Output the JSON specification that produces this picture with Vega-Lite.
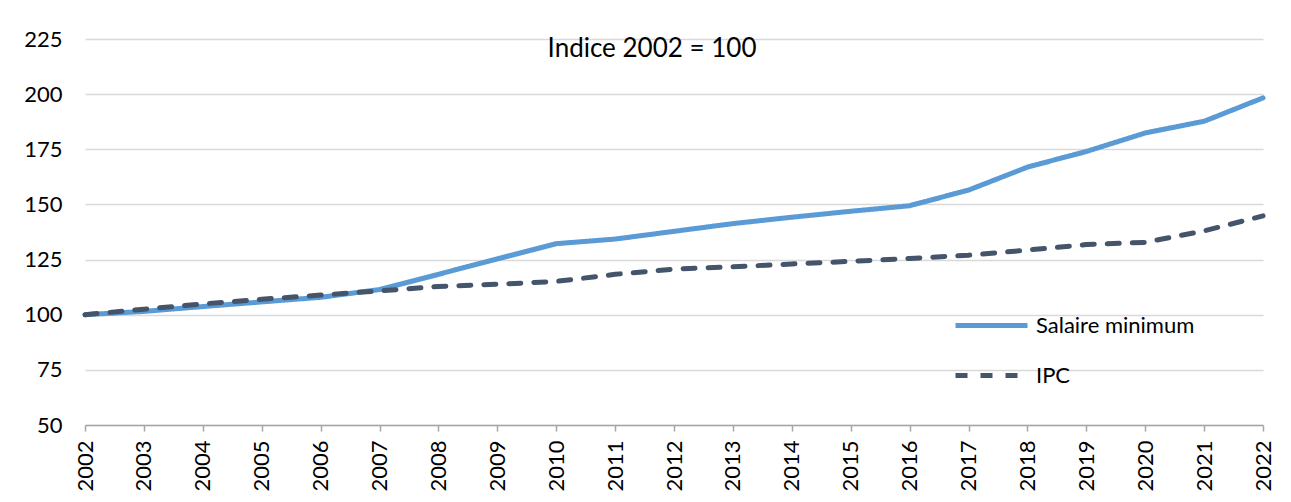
{
  "$schema": "https://vega.github.io/schema/vega-lite/v6.json",
  "width": 1178,
  "height": 386,
  "autosize": {"type": "none"},
  "padding": {"left": 85, "top": 39, "right": 28, "bottom": 77},
  "background": "white",
  "title": {"text": "Indice 2002 = 100", "anchor": "middle", "frame": "group", "dx": -22, "offset": -34, "fontSize": 26, "font": "Lato", "fontWeight": "normal", "color": "#000000"},
  "data": {"values": [
    {"year": "2002", "series": "Salaire minimum", "value": 100},
    {"year": "2003", "series": "Salaire minimum", "value": 101.5},
    {"year": "2004", "series": "Salaire minimum", "value": 103.7},
    {"year": "2005", "series": "Salaire minimum", "value": 105.8},
    {"year": "2006", "series": "Salaire minimum", "value": 107.9},
    {"year": "2007", "series": "Salaire minimum", "value": 111.4},
    {"year": "2008", "series": "Salaire minimum", "value": 118.3},
    {"year": "2009", "series": "Salaire minimum", "value": 125.3},
    {"year": "2010", "series": "Salaire minimum", "value": 132.2},
    {"year": "2011", "series": "Salaire minimum", "value": 134.3},
    {"year": "2012", "series": "Salaire minimum", "value": 137.8},
    {"year": "2013", "series": "Salaire minimum", "value": 141.3},
    {"year": "2014", "series": "Salaire minimum", "value": 144.2},
    {"year": "2015", "series": "Salaire minimum", "value": 146.9},
    {"year": "2016", "series": "Salaire minimum", "value": 149.4},
    {"year": "2017", "series": "Salaire minimum", "value": 156.5},
    {"year": "2018", "series": "Salaire minimum", "value": 166.9},
    {"year": "2019", "series": "Salaire minimum", "value": 174},
    {"year": "2020", "series": "Salaire minimum", "value": 182.4},
    {"year": "2021", "series": "Salaire minimum", "value": 187.7},
    {"year": "2022", "series": "Salaire minimum", "value": 198.3},
    {"year": "2002", "series": "IPC", "value": 100},
    {"year": "2003", "series": "IPC", "value": 102.5},
    {"year": "2004", "series": "IPC", "value": 104.9},
    {"year": "2005", "series": "IPC", "value": 107},
    {"year": "2006", "series": "IPC", "value": 108.9},
    {"year": "2007", "series": "IPC", "value": 110.8},
    {"year": "2008", "series": "IPC", "value": 112.8},
    {"year": "2009", "series": "IPC", "value": 113.8},
    {"year": "2010", "series": "IPC", "value": 115.1},
    {"year": "2011", "series": "IPC", "value": 118.3},
    {"year": "2012", "series": "IPC", "value": 120.7},
    {"year": "2013", "series": "IPC", "value": 121.7},
    {"year": "2014", "series": "IPC", "value": 123},
    {"year": "2015", "series": "IPC", "value": 124.2},
    {"year": "2016", "series": "IPC", "value": 125.5},
    {"year": "2017", "series": "IPC", "value": 127},
    {"year": "2018", "series": "IPC", "value": 129.3},
    {"year": "2019", "series": "IPC", "value": 131.8},
    {"year": "2020", "series": "IPC", "value": 132.8},
    {"year": "2021", "series": "IPC", "value": 138},
    {"year": "2022", "series": "IPC", "value": 144.8}
  ]},
  "mark": {"type": "line", "strokeWidth": 5, "strokeCap": "round", "strokeJoin": "round"},
  "encoding": {
    "x": {
      "field": "year", "type": "ordinal",
      "scale": {"type": "point", "padding": 0},
      "axis": {"title": null, "labelAngle": -90, "labelFont": "Lato", "labelFontSize": 22, "labelColor": "#000000", "labelPadding": 9, "tickSize": 6, "tickColor": "#A6A6A6", "tickWidth": 1.5, "domainColor": "#A6A6A6", "domainWidth": 1.5, "grid": false}
    },
    "y": {
      "field": "value", "type": "quantitative",
      "scale": {"domain": [50, 225], "nice": false, "zero": false},
      "axis": {"title": null, "values": [50, 75, 100, 125, 150, 175, 200, 225], "labelFont": "Lato", "labelFontSize": 22, "labelColor": "#000000", "labelPadding": 23, "tickSize": 0, "ticks": false, "domain": false, "gridColor": "#D9D9D9", "gridWidth": 1.5}
    },
    "color": {
      "field": "series", "type": "nominal",
      "scale": {"domain": ["Salaire minimum", "IPC"], "range": ["#5B9BD5", "#44546A"]},
      "legend": {"title": null, "orient": "none", "legendX": 868, "legendY": 248, "symbolType": "stroke", "symbolSize": 5184, "symbolStrokeWidth": 5, "labelFont": "Lato", "labelFontSize": 22, "labelColor": "#000000", "labelOffset": 6, "rowPadding": -15}
    },
    "strokeDash": {
      "field": "series", "type": "nominal",
      "scale": {"domain": ["Salaire minimum", "IPC"], "range": [[1, 0], [12, 13]]}
    }
  },
  "config": {"view": {"stroke": null}}
}
